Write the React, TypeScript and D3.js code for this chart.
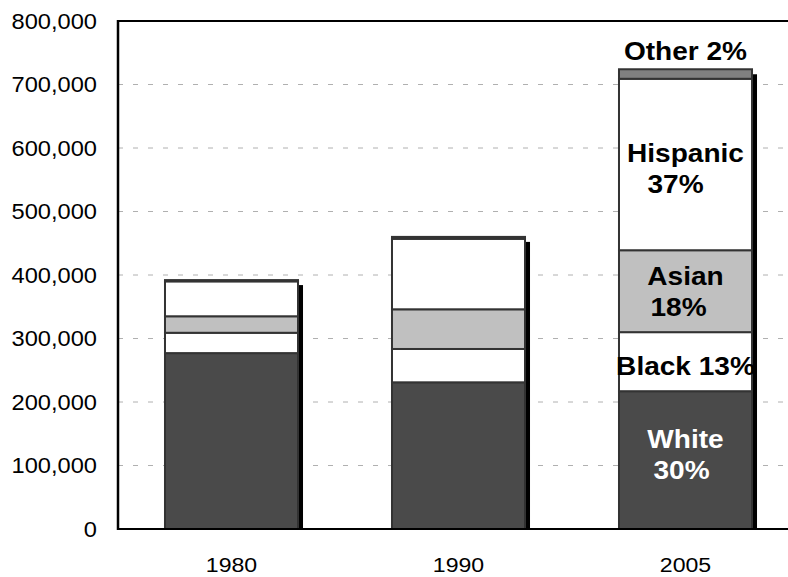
import React from "react";
import * as d3 from "d3";

const years = ["1980", "1990", "2005"];
const groups = ["White", "Black", "Asian", "Hispanic", "Other"];
const white = [277000, 231000, 217000];
const black = [32000, 52500, 93000];
const asian = [26000, 62500, 129000];
const hispanic = [55000, 111000, 270000];
const other = [2000, 3000, 15000];
const yTicks = [0, 100000, 200000, 300000, 400000, 500000, 600000, 700000, 800000];
const colors: Record<string, string> = {
  White: "#4a4a4a",
  Black: "#ffffff",
  Asian: "#c0c0c0",
  Hispanic: "#ffffff",
  Other: "#808080",
};
// 2005 segment labels
const labels = [
  { key: "White", lines: ["White", "30%"], fill: "#ffffff" },
  { key: "Black", lines: ["Black 13%"], fill: "#000000" },
  { key: "Asian", lines: ["Asian", "18%"], fill: "#000000" },
  { key: "Hispanic", lines: ["Hispanic", "37%"], fill: "#000000" },
];

const W = 788;
const H = 577;
const left = 118;
const top = 21;
const bottom = 529;
const right = 799;
const FONT = "'Liberation Sans', Arial, Helvetica, sans-serif";
const SX = 1.1;
const labelNudge: Record<string, { dy: number; dx2: number }> = {
  White: { dy: -6, dx2: -4 },
  Black: { dy: 4, dx2: 0 },
  Asian: { dy: 0, dx2: -7 },
  Hispanic: { dy: 4, dx2: -10 },
};

export default function App() {
  const x = d3.scaleBand<string>().domain(years).range([left, right]).paddingInner(0.414).paddingOuter(0.207);
  const y = d3.scaleLinear().domain([0, 800000]).range([bottom, top]);
  const rows = years.map((yr, i) => ({
    year: yr,
    White: white[i],
    Black: black[i],
    Asian: asian[i],
    Hispanic: hispanic[i],
    Other: other[i],
  }));
  const stacked = d3.stack<any>().keys(groups)(rows);
  const bw = x.bandwidth();
  const fmt = d3.format(",");
  const last = years.length - 1;
  const cx = (x(years[last]) as number) + bw / 2;
  const stretch = (px: number, py: number) => `translate(${px},${py}) scale(${SX},1)`;

  return (
    <svg width={W} height={H} style={{ position: "absolute", left: 0, top: 0, background: "#fff" }} fontFamily={FONT}>
      {/* gridlines */}
      {yTicks.filter((t) => t > 0 && t < 800000).map((t) => (
        <line key={t} x1={left} x2={W} y1={y(t)} y2={y(t)} stroke="#b0b0b0" strokeWidth={1} strokeDasharray="5,10" />
      ))}
      {/* shadows */}
      {years.map((yr, i) => {
        const tot = stacked[stacked.length - 1][i][1];
        return (
          <rect key={"s" + yr} x={(x(yr) as number) + 5} y={y(tot) + 5} width={bw} height={bottom - y(tot) - 5} fill="#000" />
        );
      })}
      {/* bars */}
      {stacked.map((s) => (
        <g key={s.key}>
          {s.map((d, i) => (
            <rect
              key={years[i]}
              x={x(years[i])}
              y={y(d[1])}
              width={bw}
              height={Math.max(0, y(d[0]) - y(d[1]))}
              fill={colors[s.key]}
              stroke="#333"
              strokeWidth={2}
            />
          ))}
        </g>
      ))}
      {/* axes */}
      <line x1={left} x2={W} y1={top} y2={top} stroke="#000" strokeWidth={2} />
      <line x1={left} x2={left} y1={top - 1} y2={bottom + 1} stroke="#000" strokeWidth={2.5} />
      <line x1={left} x2={W} y1={bottom} y2={bottom} stroke="#000" strokeWidth={2} />
      {yTicks.map((t) => (
        <text key={t} transform={stretch(97, y(t) + 7.5)} textAnchor="end" fontSize={21.5} fill="#000">
          {fmt(t)}
        </text>
      ))}
      {years.map((yr) => (
        <text key={yr} transform={stretch((x(yr) as number) + bw / 2, 572)} textAnchor="middle" fontSize={21} fill="#000">
          {yr}
        </text>
      ))}
      {/* segment labels for 2005 */}
      {labels.map((lb) => {
        const s = stacked.find((k) => k.key === lb.key)!;
        const d = s[last];
        const mid = (y(d[0]) + y(d[1])) / 2;
        const lh = 31;
        const n = lb.lines.length;
        const nudge = labelNudge[lb.key];
        return lb.lines.map((ln, j) => {
          const baseY = mid + 9 + nudge.dy + (j - (n - 1) / 2) * lh;
          const dx = j > 0 ? nudge.dx2 : 0;
          return (
            <text key={lb.key + j} transform={stretch(cx + dx, baseY)} textAnchor="middle" fontSize={25.5}
              fontWeight="bold" fill={lb.fill}>
              {ln}
            </text>
          );
        });
      })}
      <text transform={stretch(cx, y(stacked[stacked.length - 1][last][1]) - 9)} textAnchor="middle" fontSize={25.5}
        fontWeight="bold" fill="#000">
        Other 2%
      </text>
    </svg>
  );
}
